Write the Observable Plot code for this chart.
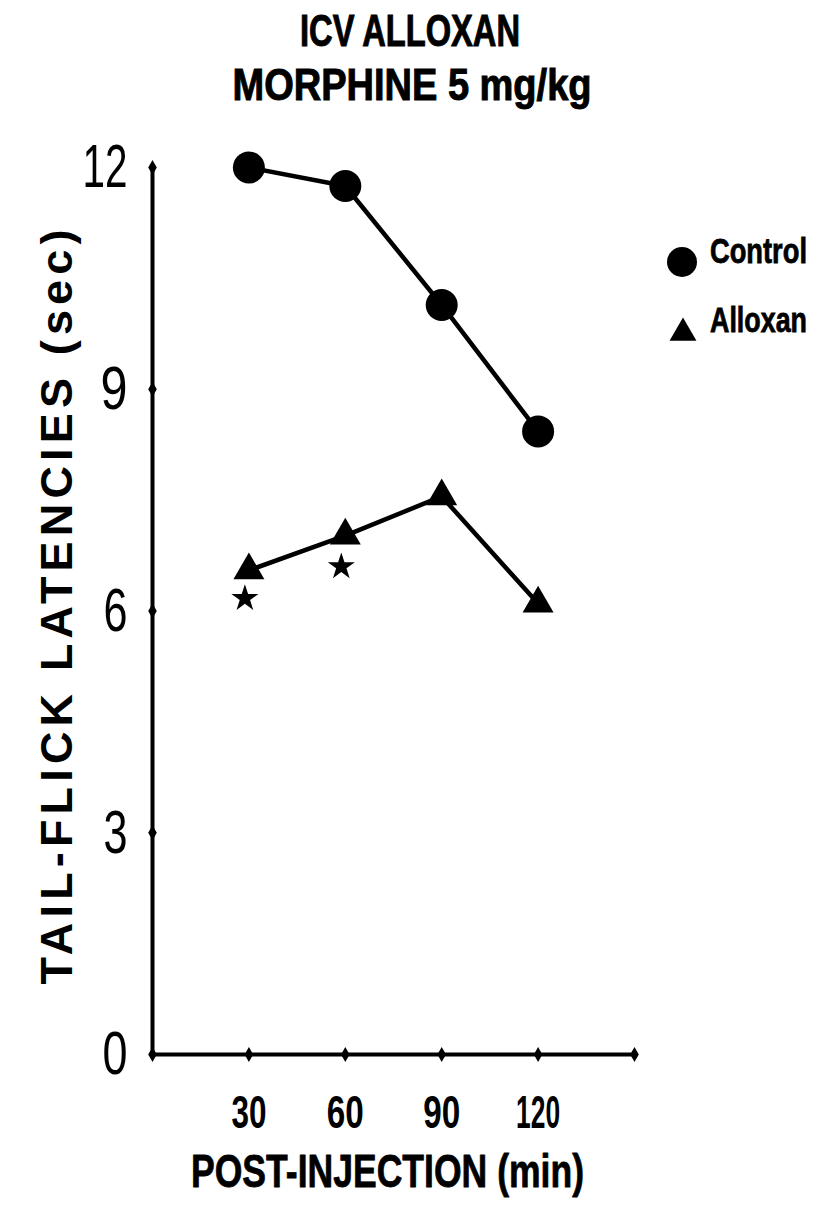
<!DOCTYPE html>
<html><head><meta charset="utf-8">
<script src="https://cdn.jsdelivr.net/npm/d3@7"></script>
<script src="https://cdn.jsdelivr.net/npm/@observablehq/plot@0.6"></script>
<style>
body{margin:0;background:#fff;}
#wrap{position:relative;width:815px;height:1208px;overflow:hidden;font-family:"Liberation Sans",Arial,sans-serif;color:#000;background:#fff;}
</style></head>
<body><div id="wrap">
<svg id="titlebox" style="position:absolute;left:0;top:0" width="815" height="140"></svg>
<div id="chart" style="position:absolute;left:0;top:140px"></div>
<svg id="legend" style="position:absolute;left:640px;top:220px" width="175" height="140"></svg>
</div>
<script>
const times = [30, 60, 90, 120];
const controlLatency = [12.0, 11.75, 10.14, 8.43];
const alloxanLatency = [6.55, 7.02, 7.55, 6.1];
const starTimes = [30, 60];
const starLatency = [6.17, 6.6];
const xTickLabels = [30, 60, 90, 120];
const xTickMarks = [30, 60, 90, 120, 150];
const yTicks = [0, 3, 6, 9, 12];
const seriesNames = ["Control", "Alloxan"];
const seriesSymbols = ["circle", "triangle"];
const titleLines = ["ICV ALLOXAN", "MORPHINE 5 mg/kg"];
const xLabel = "POST-INJECTION (min)";
const yLabel = "TAIL-FLICK LATENCIES (sec)";

// rendered text widths (styling only: the reference uses a very condensed face)
const textWidths = {
  "30": 35, "60": 37, "90": 37, "120": 44,
  "0": 25, "3": 24, "6": 24, "9": 27, "12": 45,
  [xLabel]: 393,
  "ICV ALLOXAN": 220, "MORPHINE 5 mg/kg": 359,
  "Control": 97, "Alloxan": 97
};
function fit(sel) {
  sel.each(function() {
    const w = textWidths[this.textContent];
    if (w) d3.select(this).attr("textLength", w).attr("lengthAdjust", "spacingAndGlyphs");
  });
}

const control = times.map((t, i) => ({t, v: controlLatency[i]}));
const alloxan = times.map((t, i) => ({t, v: alloxanLatency[i]}));
const stars = starTimes.map((t, i) => ({t, v: starLatency[i]}));

const chart = Plot.plot({
  width: 815, height: 1068,
  marginLeft: 152, marginRight: 181, marginTop: 27, marginBottom: 154,
  x: {domain: [0, 150]},
  y: {domain: [0, 12]},
  style: {background: "transparent", overflow: "visible", fontFamily: "'Liberation Sans',Arial,sans-serif", color: "#000"},
  marks: [
    Plot.ruleY([0], {x1: 0, x2: 150, strokeWidth: 4, stroke: "#000"}),
    Plot.ruleX([0], {y1: 0, y2: 12, strokeWidth: 4, stroke: "#000"}),
    Plot.dot(xTickMarks, {x: d => d, y: 0, symbol: "diamond", r: 4.5, fill: "#000"}),
    Plot.dot(yTicks, {x: 0, y: d => d, symbol: "diamond", r: 4.5, fill: "#000"}),
    Plot.axisX(xTickLabels, {tickSize: 0, tickPadding: 41, fontSize: 46, fontWeight: "bold", label: null, tickFormat: d => String(d), fill: "#000", stroke: "#000", strokeWidth: 1}),
    Plot.axisY(yTicks, {tickSize: 0, tickPadding: 25, fontSize: 62, label: null, tickFormat: d => String(d), fill: "#000", stroke: "#000", strokeWidth: 0.8}),
    Plot.text([xLabel], {text: d => d, frameAnchor: "bottom", textAnchor: "middle", lineAnchor: "top", dy: 99, dx: -6, fontSize: 47, fontWeight: "bold", fill: "#000", stroke: "#000", strokeWidth: 0.8}),
    Plot.text([yLabel], {text: d => d, frameAnchor: "left", textAnchor: "middle", rotate: -90, lineAnchor: "middle", dx: -95, dy: -4, fontSize: 45, fontWeight: "bold", fill: "#000"}),
    Plot.line(control, {x: "t", y: "v", strokeWidth: 4.5, stroke: "#000"}),
    Plot.line(alloxan, {x: "t", y: "v", strokeWidth: 4.5, stroke: "#000"}),
    Plot.dot(control, {x: "t", y: "v", r: 16, fill: "#000", symbol: "circle"}),
    Plot.dot(alloxan, {x: "t", y: "v", r: 11.5, fill: "#000", symbol: "triangle"}),
    Plot.dot(stars, {x: "t", y: "v", r: 8.5, fill: "#000", symbol: "star", dx: -4})
  ]
});
fit(d3.select(chart).selectAll("text"));
d3.select(chart).selectAll("text").filter(function(){ return this.textContent === yLabel; })
  .attr("textLength", 755).attr("lengthAdjust", "spacing");
document.getElementById("chart").appendChild(chart);

// title
const tb = d3.select("#titlebox");
tb.selectAll("text").data(titleLines).join("text")
  .attr("x", (d, i) => i === 0 ? 410 : 412)
  .attr("y", (d, i) => i === 0 ? 46 : 100)
  .attr("text-anchor", "middle")
  .attr("font-family", "'Liberation Sans',Arial,sans-serif")
  .attr("font-weight", "bold")
  .attr("font-size", 45)
  .attr("fill", "#000")
  .attr("stroke", "#000").attr("stroke-width", 1)
  .text(d => d)
  .call(fit);

// legend (condensed with a horizontal scale so its box stays inside the page)
const lg = d3.select("#legend");
const legRows = seriesNames.map((name, i) => ({name, symbol: seriesSymbols[i]}));
const rowY = [42, 111];
lg.selectAll("path").data(legRows).join("path")
  .attr("transform", (d, i) => `translate(${i === 0 ? 42 : 43},${i === 0 ? rowY[0] : rowY[1] + 2})`)
  .attr("d", d => d3.symbol(d.symbol === "circle" ? d3.symbolCircle : d3.symbolTriangle, Math.PI * (d.symbol === "circle" ? 15 * 15 : 10 * 10))())
  .attr("fill", "#000");
lg.selectAll("text").data(legRows).join("text")
  .attr("x", 0).attr("y", 0)
  .attr("font-family", "'Liberation Sans',Arial,sans-serif")
  .attr("font-weight", "bold")
  .attr("font-size", 36)
  .attr("fill", "#000")
  .attr("stroke", "#000").attr("stroke-width", 0.8)
  .text(d => d.name)
  .each(function(d, i) {
    const natural = this.getComputedTextLength() || 128;
    const sx = textWidths[d.name] / natural;
    d3.select(this).attr("transform", `translate(70,${i === 0 ? 43 : 112}) scale(${sx},1)`);
  });
</script>
</body></html>
